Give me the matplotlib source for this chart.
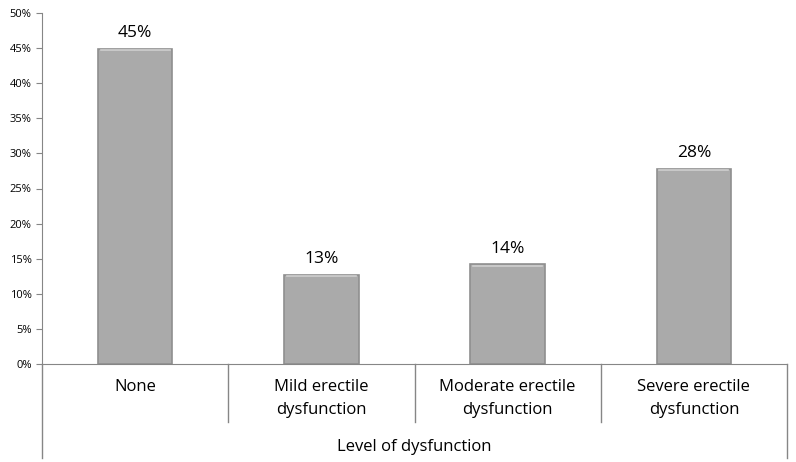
import matplotlib
matplotlib.use('Agg')
import matplotlib.pyplot as plt
import numpy as np

# Datos del gráfico
categorias = ["None", "Mild erectile\ndysfunction", "Moderate erectile\ndysfunction", "Severe erectile\ndysfunction"]
valores = [44.9, 12.7, 14.2, 27.8]
etiquetas = ["45%", "13%", "14%", "28%"]
ticks_y = [0, 5, 10, 15, 20, 25, 30, 35, 40, 45, 50]
titulo_eje = "Level of dysfunction"

plt.rcParams['font.family'] = ['Open Sans', 'DejaVu Sans']
gris_eje = '#868686'

fig = plt.figure(figsize=(7.96, 4.62), dpi=100)
ax = fig.add_axes([42 / 796, (462 - 364) / 462, (787 - 42) / 796, (364 - 13) / 462])

x = np.arange(len(categorias))
barras = ax.bar(x, valores, width=0.4, color='#aaaaaa', edgecolor='#8f8f8f', linewidth=1.2)

# Brillo superior suave simulando el bisel de Excel
for b in barras:
    ax.plot([b.get_x() + 0.015, b.get_x() + b.get_width() - 0.015],
            [b.get_height() - 0.2, b.get_height() - 0.2], color='#cfcfcf', lw=1.2)

for xi, v, et in zip(x, valores, etiquetas):
    ax.text(xi, v + 1.1, et, ha='center', va='bottom', fontsize=12.5, color='black')

ax.set_xlim(-0.5, len(categorias) - 0.5)
ax.set_ylim(0, 50)
ax.set_yticks(ticks_y)
ax.set_yticklabels([f"{t}%" for t in ticks_y], fontsize=8)
ax.set_xticks([])

for lado in ['top', 'right']:
    ax.spines[lado].set_visible(False)
for lado in ['left', 'bottom']:
    ax.spines[lado].set_color(gris_eje)
ax.tick_params(axis='y', colors=gris_eje, length=4, labelcolor='black')

# Separadores de categorías y bordes exteriores
alto = (364 - 13)
y_sep = -(422 - 364) / alto
y_ext = -(458 - 364) / alto
for i in range(1, len(categorias)):
    ax.plot([i / len(categorias)] * 2, [0, y_sep], transform=ax.transAxes,
            color=gris_eje, lw=1, clip_on=False)
for xe in [0, 1]:
    ax.plot([xe, xe], [0, y_ext], transform=ax.transAxes, color=gris_eje, lw=1, clip_on=False)

for i, c in enumerate(categorias):
    ax.text((i + 0.5) / len(categorias), -(379 - 364) / alto, c, transform=ax.transAxes,
            ha='center', va='top', fontsize=12, linespacing=1.55)

ax.text(0.5, -(447 - 364) / alto, titulo_eje, transform=ax.transAxes,
        ha='center', va='center', fontsize=12)

fig.savefig('out.png', dpi=100)
